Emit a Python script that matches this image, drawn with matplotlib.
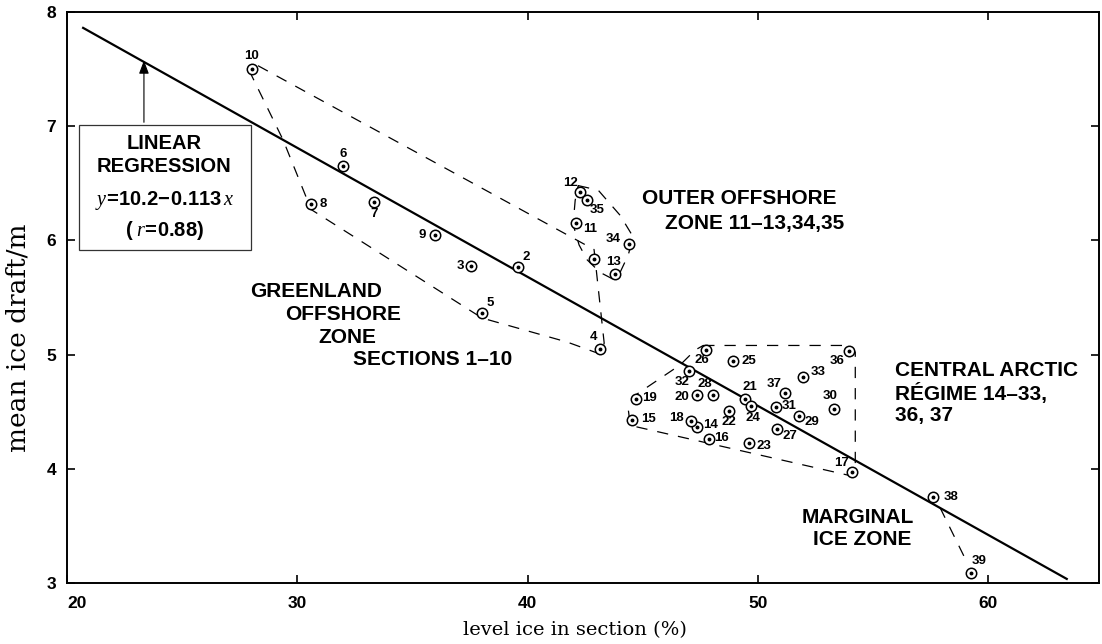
import numpy as np
import matplotlib.pyplot as plt

plt.rcParams["mathtext.fontset"] = "custom"
plt.rcParams["mathtext.rm"] = "Liberation Sans:bold"
plt.rcParams["mathtext.bf"] = "Liberation Sans:bold"
plt.rcParams["mathtext.it"] = "Liberation Serif:italic"

# sections: level ice (%) and mean ice draft (m)
sections = list(range(1, 40))
level_ice = [42.89, 39.58, 37.54, 43.14, 38.00, 31.98, 33.33, 30.60, 35.98, 28.03,
             42.10, 42.28, 43.80, 47.36, 44.53, 47.88, 54.09, 47.10, 44.70, 47.35,
             49.44, 48.75, 49.60, 49.70, 48.92, 47.75, 50.83, 48.05, 51.78, 53.30,
             50.80, 47.00, 51.96, 44.40, 42.58, 53.96, 51.18, 57.60, 59.25]
mean_draft = [5.84, 5.77, 5.78, 5.05, 5.36, 6.65, 6.34, 6.32, 6.05, 7.50,
              6.15, 6.42, 5.71, 4.37, 4.43, 4.26, 3.97, 4.42, 4.61, 4.65,
              4.61, 4.51, 4.23, 4.55, 4.94, 5.04, 4.35, 4.65, 4.46, 4.52,
              4.54, 4.86, 4.80, 5.97, 6.35, 5.03, 4.66, 3.75, 3.09]

# regression y = a + b x
intercept, slope = 10.2, -0.113
fit_range = [20.7, 63.4]

# dashed outlines of the zones
greenland_x = [28.29, 42.88, 43.32, 43.14, 41.71, 38.02, 30.60, 29.38, 27.95, 28.29]
greenland_y = [7.53, 5.92, 5.10, 5.005, 5.11, 5.32, 6.27, 6.88, 7.47, 7.53]
outer_x = [42.19, 43.06, 44.01, 44.58, 44.36, 44.01, 43.71, 43.14, 42.58, 42.23, 41.97, 42.06, 42.19]
outer_y = [6.48, 6.44, 6.22, 6.03, 5.87, 5.72, 5.66, 5.72, 5.83, 5.96, 6.14, 6.35, 6.48]
central_x = [47.62, 54.00, 54.22, 54.22, 54.00, 44.45, 44.36, 44.71, 46.62, 47.27, 47.62]
central_y = [5.08, 5.08, 5.02, 3.99, 3.94, 4.38, 4.53, 4.65, 4.91, 5.04, 5.08]
marginal_x = [57.9, 59.12]
marginal_y = [3.66, 3.16]

# where each section number sits relative to its point (pixels)
label_offsets = {
    2: (8, 10), 3: (-11, 0), 4: (-7, 12), 5: (9, 10), 6: (0, 12), 7: (0, -12),
    8: (12, 0), 9: (-13, 0), 10: (0, 13), 11: (14, -6), 12: (-10, 9), 13: (-2, 12),
    14: (13, 2), 15: (16, 1), 16: (12, 1), 17: (-11, 9), 18: (-15, 3), 19: (14, 1),
    20: (-15, -2), 21: (5, 12), 22: (0, -11), 23: (15, -3), 24: (2, -12), 25: (16, 0),
    26: (-4, -10), 27: (13, -7), 28: (-8, 11), 29: (13, -6), 30: (-4, 13), 31: (13, 1),
    32: (-7, -11), 33: (15, 5), 34: (-16, 5), 35: (10, -10), 36: (-12, -10), 37: (-11, 9),
    38: (18, 0), 39: (8, 12),
}

sans = "Liberation Sans"
fig = plt.figure(figsize=(11.02, 6.44), dpi=100)
ax = fig.add_axes([67 / 1102, 61 / 644, 1032 / 1102, 571 / 644])
ax.set_xlim(20, 64.8)
ax.set_ylim(3, 8)

for s in ax.spines.values():
    s.set_linewidth(1.4)
ax.set_xticks([20, 30, 40, 50, 60])
ax.set_yticks([3, 4, 5, 6, 7, 8])
ax.tick_params(direction="in", top=True, right=True, length=6, width=1.2)
ax.tick_params(axis="x", pad=9)
ax.tick_params(axis="y", pad=8)
for lab in ax.get_xticklabels() + ax.get_yticklabels():
    lab.set_fontfamily(sans)
    lab.set_fontweight("bold")
    lab.set_fontsize(12.5)
ax.get_xticklabels()[0].set_horizontalalignment("left")

ax.set_xlabel("level ice in section (%)", family="DejaVu Serif", fontsize=14)
ax.xaxis.set_label_coords(0.492, -0.082)
ax.xaxis.label.set_va("center")
ax.set_ylabel("mean ice draft/m", family="DejaVu Serif", fontsize=19)
ax.yaxis.set_label_coords(-0.047, 0.43)
ax.yaxis.label.set_va("center")

# regression line
xs = np.array(fit_range)
ax.plot(xs, intercept + slope * xs, color="black", lw=1.6, zorder=3)

dash = (0, (9, 8))
for px, py in [(greenland_x, greenland_y), (outer_x, outer_y),
               (central_x, central_y), (marginal_x, marginal_y)]:
    ax.plot(px, py, color="black", lw=0.9, linestyle=dash, zorder=2)

# circled-dot markers
ax.plot(level_ice, mean_draft, "o", ms=7.5, mfc="white", mec="black", mew=1.1, zorder=4)
ax.plot(level_ice, mean_draft, "o", ms=1.8, color="black", zorder=5)

for s, x, y in zip(sections, level_ice, mean_draft):
    if s not in label_offsets:
        continue
    ax.annotate(str(s), (x, y), xytext=label_offsets[s], textcoords="offset pixels",
                ha="center", va="center", fontsize=9.5, fontweight="bold", family=sans)

# regression legend box with arrow
ax.add_patch(plt.Rectangle((20.52, 5.92), 7.47, 1.09, fill=True, facecolor="white",
                           edgecolor="#333333", lw=0.9, zorder=6))
ax.annotate("", xy=(23.34, 7.6), xytext=(23.34, 7.01),
            arrowprops=dict(arrowstyle="-|>,head_length=0.8,head_width=0.3",
                            lw=0.8, color="black"), zorder=6)
bx = 24.22
ax.text(bx, 6.85, "LINEAR", ha="center", va="center", fontsize=14.5, fontweight="bold", family=sans, zorder=7)
ax.text(bx, 6.65, "REGRESSION", ha="center", va="center", fontsize=14.5, fontweight="bold", family=sans, zorder=7)
ax.text(bx, 6.35, r"$y\!=\!10.2\!-\!0.113\,x$", ha="center", va="center", fontsize=14.5, zorder=7)
ax.text(bx, 6.09, r"$(\ r\!=\!0.88)$", ha="center", va="center", fontsize=14.5, zorder=7)

zone_kw = dict(ha="left", va="center", fontsize=15, fontweight="bold", family=sans)
ax.text(44.97, 6.37, "OUTER OFFSHORE", **zone_kw)
ax.text(45.97, 6.15, "ZONE 11–13,34,35", **zone_kw)
ax.text(27.95, 5.55, "GREENLAND", **zone_kw)
ax.text(29.47, 5.35, "OFFSHORE", **zone_kw)
ax.text(30.90, 5.15, "ZONE", **zone_kw)
ax.text(32.42, 4.96, "SECTIONS 1–10", **zone_kw)
ax.text(55.95, 4.865, "CENTRAL ARCTIC", **zone_kw)
ax.text(55.95, 4.66, "RÉGIME 14–33,", **zone_kw)
ax.text(55.95, 4.47, "36, 37", **zone_kw)
ax.text(51.91, 3.57, "MARGINAL", **zone_kw)
ax.text(52.39, 3.38, "ICE ZONE", **zone_kw)

fig.savefig("out.png", dpi=100)
